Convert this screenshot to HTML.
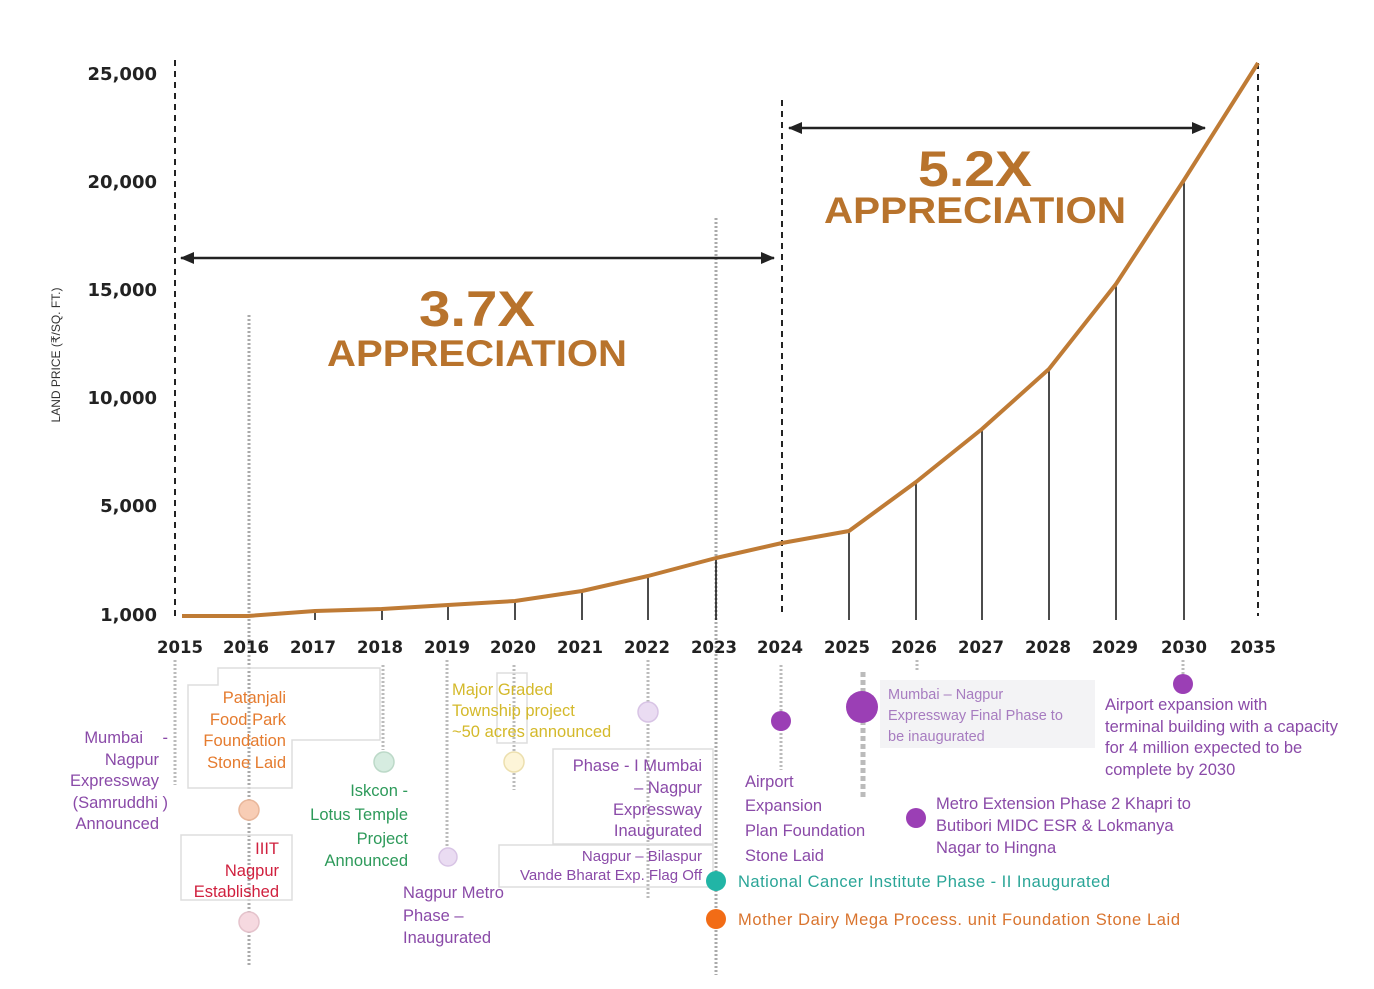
<!DOCTYPE html>
<html><head><meta charset="utf-8"><style>
body{margin:0;background:#fff}
svg{display:block;font-family:"Liberation Sans",sans-serif}
.t{font-size:16.5px}
</style></head><body>
<svg width="1374" height="989" viewBox="0 0 1374 989">
<defs><marker id="a" markerUnits="userSpaceOnUse" markerWidth="14" markerHeight="12" refX="13" refY="6" orient="auto-start-reverse"><path d="M0,0 L14,6 L0,12 z" fill="#222"/></marker></defs>
<line x1="175" y1="60" x2="175" y2="616" stroke="#222" stroke-width="2" stroke-dasharray="6,5"/>
<g font-size="18" font-weight="bold" fill="#222" text-anchor="end" font-family="DejaVu Sans,sans-serif">
<text x="157" y="80">25,000</text><text x="157" y="188">20,000</text><text x="157" y="296">15,000</text>
<text x="157" y="404">10,000</text><text x="157" y="512">5,000</text><text x="157" y="621">1,000</text></g>
<text transform="translate(60,355) rotate(-90)" font-size="12" fill="#333" text-anchor="middle">LAND PRICE (₹/SQ. FT.)</text>
<line x1="249" y1="315" x2="249" y2="965" stroke="#aaa" stroke-width="3" stroke-dasharray="2,2"/>
<line x1="716" y1="218" x2="716" y2="975" stroke="#aaa" stroke-width="3" stroke-dasharray="2,2"/>
<g stroke="#bbb" stroke-width="3" stroke-dasharray="2,2">
<line x1="175" y1="660" x2="175" y2="785"/><line x1="383" y1="665" x2="383" y2="750"/>
<line x1="447" y1="660" x2="447" y2="850"/><line x1="514" y1="665" x2="514" y2="790"/>
<line x1="648" y1="660" x2="648" y2="900"/><line x1="781" y1="665" x2="781" y2="770"/>
<line x1="863" y1="672" x2="863" y2="800" stroke-width="5" stroke-dasharray="5,3"/>
<line x1="917" y1="660" x2="917" y2="670"/><line x1="1183" y1="660" x2="1183" y2="676"/></g>
<line x1="782" y1="100" x2="782" y2="616" stroke="#222" stroke-width="2" stroke-dasharray="6,5"/>
<line x1="1258" y1="63" x2="1258" y2="616" stroke="#222" stroke-width="2" stroke-dasharray="6,5"/>
<g stroke="#111" stroke-width="1.5">
<line x1="315" y1="611" x2="315" y2="620"/><line x1="382" y1="609" x2="382" y2="620"/><line x1="448" y1="605" x2="448" y2="620"/>
<line x1="515" y1="601" x2="515" y2="620"/><line x1="582" y1="591" x2="582" y2="620"/><line x1="648" y1="576" x2="648" y2="620"/>
<line x1="716" y1="558" x2="716" y2="620"/><line x1="849" y1="531" x2="849" y2="620"/><line x1="916" y1="482" x2="916" y2="620"/>
<line x1="982" y1="429" x2="982" y2="620"/><line x1="1049" y1="369" x2="1049" y2="620"/><line x1="1116" y1="284" x2="1116" y2="620"/>
<line x1="1184" y1="180" x2="1184" y2="620"/></g>
<polyline fill="none" stroke="#bf7b35" stroke-width="4" stroke-linejoin="round" points="182,616 248,616 315,611 382,609 448,605 515,601 582,591 648,576 716,558 782,543 849,531 916,482 982,429 1049,369 1116,284 1184,180 1258,63"/>
<g font-size="16.5" font-weight="bold" fill="#222" text-anchor="middle" font-family="DejaVu Sans,sans-serif">
<text x="180" y="653">2015</text><text x="246" y="653">2016</text><text x="313" y="653">2017</text><text x="380" y="653">2018</text>
<text x="447" y="653">2019</text><text x="513" y="653">2020</text><text x="580" y="653">2021</text><text x="647" y="653">2022</text>
<text x="714" y="653">2023</text><text x="780" y="653">2024</text><text x="847" y="653">2025</text><text x="914" y="653">2026</text>
<text x="981" y="653">2027</text><text x="1048" y="653">2028</text><text x="1115" y="653">2029</text><text x="1184" y="653">2030</text><text x="1253" y="653">2035</text></g>
<line x1="181" y1="258" x2="774" y2="258" stroke="#222" stroke-width="2.5" marker-start="url(#a)" marker-end="url(#a)"/>
<line x1="789" y1="128" x2="1205" y2="128" stroke="#222" stroke-width="2.5" marker-start="url(#a)" marker-end="url(#a)"/>
<g fill="#b8732c" font-weight="bold" text-anchor="middle">
<text x="477" y="326" font-size="50" textLength="116" lengthAdjust="spacingAndGlyphs">3.7X</text><text x="477" y="366" font-size="37" textLength="300" lengthAdjust="spacingAndGlyphs">APPRECIATION</text>
<text x="975" y="186" font-size="50" textLength="114" lengthAdjust="spacingAndGlyphs">5.2X</text><text x="975" y="223" font-size="37" textLength="302" lengthAdjust="spacingAndGlyphs">APPRECIATION</text></g>
<g fill="none" stroke="#ddd" stroke-width="1.5">
<path d="M188,685 H218 V668 H380 V740 H292 V788 H188 Z"/>
<rect x="181" y="835" width="111" height="65"/>
<rect x="553" y="749" width="160" height="95"/>
<rect x="499" y="845" width="214" height="42"/>
<rect x="497" y="673" width="30" height="70"/></g>
<rect x="880" y="680" width="215" height="68" fill="#f3f3f5"/>
<g stroke-width="1.5">
<circle cx="249" cy="810" r="10" fill="#f8cdb5" stroke="#e9b79b"/>
<circle cx="249" cy="922" r="10" fill="#f6d9e0" stroke="#e5c3cc"/>
<circle cx="384" cy="762" r="10" fill="#d6ece0" stroke="#bcd9c8"/>
<circle cx="448" cy="857" r="9" fill="#eadcf2" stroke="#d8c4e5"/>
<circle cx="514" cy="762" r="10" fill="#fdf5d8" stroke="#ecdfae"/>
<circle cx="648" cy="712" r="10" fill="#eadcf2" stroke="#d8c4e5"/>
<circle cx="716" cy="881" r="10" fill="#22b5a6" stroke="none"/>
<circle cx="716" cy="919" r="10" fill="#f26c16" stroke="none"/>
<circle cx="781" cy="721" r="10" fill="#9b3fb5" stroke="none"/>
<circle cx="862" cy="707" r="16" fill="#9b3fb5" stroke="none"/>
<circle cx="916" cy="818" r="10" fill="#9b3fb5" stroke="none"/>
<circle cx="1183" cy="684" r="10" fill="#9b3fb5" stroke="none"/></g>
<g class="t">
<g fill="#8a4aa8" text-anchor="end"><text x="143" y="743">Mumbai</text><text x="168" y="743">-</text><text x="159" y="765">Nagpur</text><text x="159" y="786">Expressway</text><text x="168" y="808">(Samruddhi  )</text><text x="159" y="829">Announced</text></g>
<g fill="#e57b2e" text-anchor="end"><text x="286" y="703">Patanjali</text><text x="286" y="725">Food Park</text><text x="286" y="746">Foundation</text><text x="286" y="768">Stone Laid</text></g>
<g fill="#d0203e" text-anchor="end"><text x="279" y="854">IIIT</text><text x="279" y="876">Nagpur</text><text x="279" y="897">Established</text></g>
<g fill="#2d9a5a" text-anchor="end"><text x="408" y="796">Iskcon -</text><text x="408" y="820">Lotus Temple</text><text x="408" y="844">Project</text><text x="408" y="866">Announced</text></g>
<g fill="#d4b92a"><text x="452" y="695">Major  Graded</text><text x="452" y="716">Township project</text><text x="452" y="737">~50 acres announced</text></g>
<g fill="#8a4aa8"><text x="403" y="898">Nagpur Metro</text><text x="403" y="921">Phase      –</text><text x="403" y="943">Inaugurated</text></g>
<g fill="#8a4aa8" text-anchor="end"><text x="702" y="771">Phase - I Mumbai</text><text x="702" y="793">–    Nagpur</text><text x="702" y="815">Expressway</text><text x="702" y="836">Inaugurated</text>
<text x="702" y="861" font-size="15">Nagpur  –  Bilaspur</text><text x="702" y="880" font-size="15">Vande Bharat  Exp. Flag Off</text></g>
<g fill="#8a4aa8"><text x="745" y="787">Airport</text><text x="745" y="811">Expansion</text><text x="745" y="836">Plan Foundation</text><text x="745" y="861">Stone Laid</text></g>
<g fill="#a77cc0" font-size="14.5"><text x="888" y="699">Mumbai – Nagpur</text><text x="888" y="720">Expressway Final Phase to</text><text x="888" y="741">be inaugurated</text></g>
<g fill="#8a4aa8"><text x="1105" y="710">Airport expansion with</text><text x="1105" y="732">terminal building with a capacity</text><text x="1105" y="753">for 4 million expected to be</text><text x="1105" y="775">complete by 2030</text>
<text x="936" y="809">Metro Extension Phase 2 Khapri to</text><text x="936" y="831">Butibori MIDC ESR &amp; Lokmanya</text><text x="936" y="853">Nagar to Hingna</text></g>
<text x="738" y="887" fill="#2aa597" textLength="372">National Cancer Institute  Phase - II Inaugurated</text>
<text x="738" y="925" fill="#d9742e" textLength="442">Mother Dairy Mega Process. unit Foundation Stone Laid</text>
</g>
</svg>
</body></html>
